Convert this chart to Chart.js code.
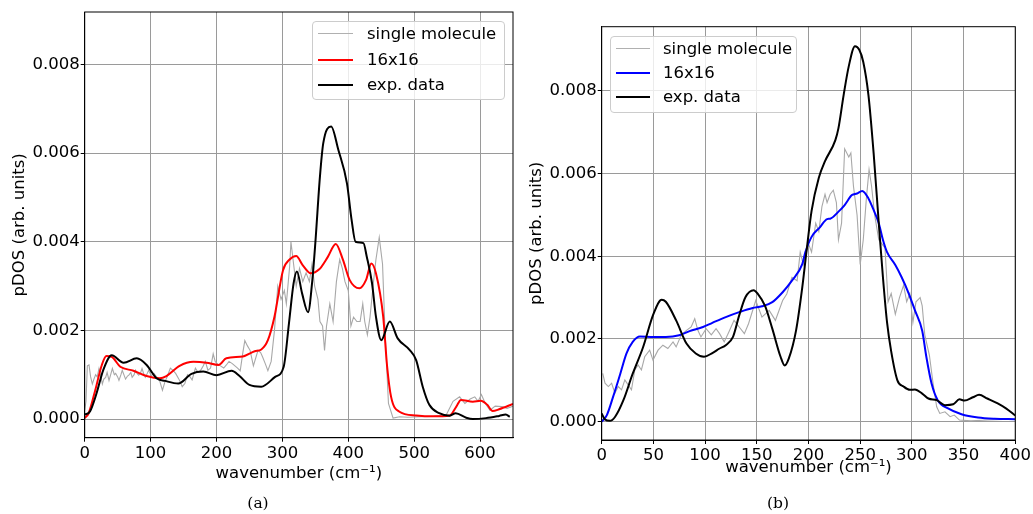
<!DOCTYPE html>
<html><head><meta charset="utf-8">
<script src="https://cdn.jsdelivr.net/npm/chart.js@4/dist/chart.umd.min.js"></script>
<style>
body{margin:0;background:#fff;width:1033px;height:514px;overflow:hidden;position:relative;font-family:"DejaVu Sans",sans-serif}
canvas{position:absolute;top:0}
.leg{position:absolute;border:1px solid #cccccc;border-radius:4px;background:rgba(255,255,255,0.8);box-sizing:border-box;z-index:2}
.ll{position:absolute;height:0;border-top-style:solid;z-index:3}
.lt{position:absolute;font-size:16.5px;line-height:20px;white-space:nowrap;color:#000;z-index:3}
.cap{position:absolute;font-family:"DejaVu Serif",serif;font-size:15.5px;line-height:20px;width:60px;text-align:center;color:#000}
</style></head>
<body>
<canvas id="ca" width="520" height="514" style="left:0px"></canvas>
<canvas id="cb" width="513" height="514" style="left:520px"></canvas>

<div class="leg" style="left:312px;top:21px;width:193px;height:79px"></div>
<div class="ll" style="left:318px;top:33px;width:35px;border-top-width:1.5px;border-color:#b0b0b0"></div>
<div class="ll" style="left:318px;top:58.7px;width:35px;border-top-width:2px;border-color:#ff0000"></div>
<div class="ll" style="left:318px;top:84px;width:35px;border-top-width:2px;border-color:#000"></div>
<div class="lt" style="left:367px;top:23.7px">single molecule</div>
<div class="lt" style="left:367px;top:49.7px">16x16</div>
<div class="lt" style="left:367px;top:75px">exp. data</div>

<div class="leg" style="left:610px;top:36px;width:187px;height:77px"></div>
<div class="ll" style="left:616px;top:48.3px;width:34px;border-top-width:1.5px;border-color:#b0b0b0"></div>
<div class="ll" style="left:616px;top:71.5px;width:34px;border-top-width:2px;border-color:#0000ff"></div>
<div class="ll" style="left:616px;top:95.5px;width:34px;border-top-width:2px;border-color:#000"></div>
<div class="lt" style="left:663px;top:39px">single molecule</div>
<div class="lt" style="left:663px;top:62.5px">16x16</div>
<div class="lt" style="left:663px;top:86.5px">exp. data</div>

<div class="cap" style="left:228px;top:493px">(a)</div>
<div class="cap" style="left:748px;top:493px">(b)</div>

<script>
// ---------- panel (a) ----------
const aXTicks = [0,100,200,300,400,500,600];
const aYTicks = [0,0.002,0.004,0.006,0.008];
const aSingleX = [0,2,4,6.5,9,11.6,14,16.6,19,21.7,
 24,26.8,29,31.8,34,36.9,39,42,45,47,
 50,52,55,57,60,62,65,67,70,72,
 75,77,80,82,85,87,90,92,95,97,
 101,105,109,113,118,122,125,130,134,138,
 143,148,152,156,160,163,168,172,176,180,
 183,187,191,195,198,201,206,211,215,219,
 224,228,232,236,240,243,247,251,256,260,
 263,267,270,274,278,283,288,293,298,303,
 306,311,313,317,321,326,331,336,341,345,
 349,354,357,361,364,367,372,377,382,387,
 391,395,400,404,408,413,418,422,425,429,
 433,438,442,447,452,456,461,468,478,490,
 510,530,549,559,569,577,585,592,597,602,
 608,615,623,633,641,650];
const aSingleY = [0.0002,0.0004,0.0012,0.00122,0.00095,0.00079,0.0009,0.001,0.00095,0.00114,
 0.001,0.00079,0.0009,0.00094,0.00105,0.00087,0.00098,0.00114,0.001,0.00103,
 0.00095,0.00087,0.001,0.0011,0.00098,0.0009,0.00097,0.00099,0.00105,0.00094,
 0.001,0.0011,0.00102,0.00099,0.00105,0.00114,0.001,0.00094,0.00103,0.0011,
 0.00098,0.00103,0.00095,0.0009,0.00065,0.00085,0.00095,0.00115,0.0011,0.00103,
 0.0009,0.00073,0.0008,0.001,0.00095,0.00088,0.00115,0.00105,0.0011,0.0012,
 0.0013,0.0011,0.00115,0.00147,0.0013,0.00125,0.0012,0.00115,0.00122,0.0013,
 0.00125,0.0012,0.00115,0.00109,0.0015,0.00177,0.00165,0.00155,0.0012,0.0014,
 0.00155,0.0015,0.0014,0.00125,0.00109,0.0013,0.002,0.003,0.0027,0.0029,
 0.0026,0.00344,0.004,0.0035,0.003,0.0034,0.0031,0.0033,0.0031,0.0035,
 0.003,0.0027,0.0022,0.0021,0.00155,0.0021,0.0026,0.0022,0.0031,0.0036,
 0.0034,0.0031,0.0029,0.0021,0.0023,0.0022,0.0022,0.0026,0.0022,0.0019,
 0.0023,0.00306,0.0036,0.0041,0.0035,0.0019,0.00035,0.00002,0.00005,0.00004,
 0.00005,0.00006,0.0001,0.0004,0.0005,0.00035,0.00045,0.0005,0.0004,0.00055,
 0.00035,0.0002,0.00029,0.00028,0.00024,0.00029];
const aLatticeX = [0,6,16,26,33,41,54,74,94,114,
 124,144,165,185,203,215,240,258,268,278,
 288,301,311,321,331,343,356,369,381,392,
 402,417,427,435,442,453,459,465,477,503,
 528,554,564,571,589,601,611,619,629,650];
const aLatticeY = [0.00002,0.00013,0.00065,0.00122,0.00142,0.0014,0.00118,0.00109,0.00097,0.00092,
 0.00097,0.0012,0.00129,0.00127,0.00122,0.00137,0.00141,0.00153,0.00157,0.00178,
 0.00231,0.00336,0.0036,0.00368,0.00347,0.00329,0.00338,0.00366,0.00395,0.00359,
 0.00314,0.00295,0.00314,0.00351,0.00329,0.00231,0.00118,0.0005,0.00017,0.00008,
 0.00006,0.00008,0.00028,0.00043,0.00039,0.00041,0.00032,0.00018,0.00022,0.00034];
const aExpX = [0,8,18,28,41,59,79,94,109,122,
 142,162,180,200,223,235,250,268,289,302,
 310,317,322,330,339,345,350,357,362,374,
 385,398,405,411,423,428,436,442,450,463,
 475,493,503,513,523,538,554,563,579,589,
 609,629,639,645];
const aExpY = [0.0001,0.00017,0.00058,0.0011,0.00144,0.00127,0.00137,0.00122,0.00092,0.00086,
 0.0008,0.00102,0.00107,0.00099,0.00109,0.00097,0.00077,0.00073,0.00095,0.00118,
 0.00216,0.00306,0.00333,0.00283,0.00241,0.00306,0.00397,0.00547,0.00622,0.0066,
 0.00607,0.00532,0.0045,0.004,0.00397,0.00367,0.00307,0.00231,0.00178,0.0022,
 0.00182,0.00156,0.00133,0.00073,0.00032,0.00013,0.000075,0.00013,0.00003,0.0,
 0.00002,0.00007,0.0001,0.00005];

// ---------- panel (b) ----------
const bXTicks = [0,50,100,150,200,250,300,350,400];
const bYTicks = [0,0.002,0.004,0.006,0.008];
const bSingleX = [1,3.2,6.4,9.6,12.8,16,19.2,22.4,25.6,28.8,
 32,35.2,38.4,41.6,46.4,49.6,54.5,59.2,64,69,
 72,77,82,86.5,90,93,96,101,106,110.6,
 114,118.5,123,128,133,138,142,149,155,162,
 168,175,179,184,189,192,195,200,203,207,
 210,213,216,218,221,224,227,229,232,235,
 239,241,243.5,247,250,253,256,258.6,261,264,
 268,271,274,277,280,284,288,292,295,298,
 301,304,308,310,312.5,317,320.5,324,327,332,
 337,341,346,357,373,396];
const bSingleY = [0.00117,0.00093,0.00085,0.00093,0.00069,0.00085,0.00077,0.00101,0.00089,0.00077,
 0.00125,0.00137,0.00125,0.00157,0.00173,0.00149,0.00173,0.00185,0.00177,0.00193,
 0.00181,0.0021,0.00221,0.00229,0.00249,0.00221,0.00205,0.00225,0.0021,0.00225,
 0.00213,0.00193,0.00217,0.00245,0.00229,0.00213,0.00237,0.00293,0.00253,0.00269,
 0.00245,0.00293,0.00309,0.00349,0.00341,0.0041,0.0038,0.0043,0.0041,0.0048,
 0.0046,0.0052,0.0055,0.0053,0.0055,0.0056,0.0053,0.0044,0.0048,0.0066,
 0.0064,0.0065,0.0057,0.005,0.0038,0.0044,0.0054,0.0061,0.0057,0.005,
 0.0044,0.0043,0.0042,0.0029,0.0031,0.0026,0.003,0.0033,0.0029,0.0031,
 0.0024,0.0029,0.003,0.0028,0.0021,0.0016,0.00093,0.00036,0.0002,0.00024,
 0.00012,0.00016,0.00004,0.00002,0.00004,0.00006];
const bLatticeX = [0,5,11,18,24,30,37,50,62,75,
 85,98,107,120,133,146,155,165,175,184,
 194,197,203,211,218,221,229,235,242,247,
 252,258,263,268,272,276,284,290,297,303,
 310,314,319,325,335,348,364,380,400];
const bLatticeY = [0,0.00016,0.0006,0.00116,0.00165,0.00193,0.00206,0.00205,0.00205,0.00209,
 0.00219,0.00229,0.00239,0.00253,0.00265,0.00275,0.00279,0.00289,0.00313,0.00341,
 0.00381,0.0041,0.00447,0.0047,0.0049,0.00491,0.00508,0.00524,0.00548,0.00552,
 0.00558,0.0054,0.00512,0.0048,0.0044,0.0041,0.00379,0.0035,0.0031,0.00269,
 0.0022,0.00157,0.00093,0.00052,0.00032,0.00018,0.0001,0.00007,0.00006];
const bExpX = [0,3,8,13,21,30,40,50,58,62,
 72,82,91,99,107,114,120,127,133,139,
 147,151,158,165,173,177,181,188,194,198,
 203,210,216,226,229,234,239,245,249,253,
 258,263,268,272,276,280,286,292,298,303,
 310,316,324,332,340,346,351,359,365,373,
 383,391,400];
const bExpY = [0.0002,0.00006,0.00002,0.00012,0.00052,0.00116,0.0018,0.0026,0.00295,0.0029,
 0.00245,0.00189,0.00165,0.00157,0.00166,0.00177,0.00185,0.00205,0.00257,0.00301,
 0.00318,0.00309,0.0028,0.00225,0.00157,0.00136,0.00153,0.00221,0.00325,0.0041,
 0.0051,0.0059,0.0063,0.00681,0.0071,0.0079,0.0086,0.00908,0.009,0.0087,
 0.0079,0.0065,0.0048,0.0035,0.0024,0.0017,0.001,0.00085,0.00077,0.00078,
 0.00068,0.00056,0.00052,0.0004,0.00042,0.00054,0.00051,0.00059,0.00065,0.00056,
 0.00044,0.00032,0.00015];

const pts = (xs, ys) => xs.map((x, i) => ({x: x, y: ys[i]}));
const FONT = {family: '"DejaVu Sans"', size: 16.5};

const framePlugin = {
  id: 'frame',
  afterDraw(chart) {
    const {ctx, chartArea: a} = chart;
    ctx.save();
    ctx.strokeStyle = '#000';
    ctx.lineWidth = 1;
    ctx.strokeRect(a.left, a.top, a.right - a.left, a.bottom - a.top);
    ctx.restore();
  }
};

function makeChart(id, cfg) {
  const ds = [
    {label: 'single molecule', data: pts(cfg.sx, cfg.sy), borderColor: '#a8a8a8', borderWidth: 1.1, pointRadius: 0, tension: 0, order: 3},
    {label: '16x16', data: pts(cfg.lx, cfg.ly), borderColor: cfg.color, borderWidth: 2, pointRadius: 0, cubicInterpolationMode: 'monotone', order: 2},
    {label: 'exp. data', data: pts(cfg.ex, cfg.ey), borderColor: '#000000', borderWidth: 2, pointRadius: 0, cubicInterpolationMode: 'monotone', order: 1}
  ];
  return new Chart(document.getElementById(id), {
    type: 'line',
    data: {datasets: ds},
    options: {
      responsive: false,
      animation: false,
      events: [],
      layout: {padding: cfg.pad},
      plugins: {legend: {display: false}, tooltip: {enabled: false}},
      scales: {
        x: {
          type: 'linear', min: cfg.xmin, max: cfg.xmax,
          afterBuildTicks: s => { s.ticks = cfg.xt.map(v => ({value: v})); },
          afterFit: s => { s.height = cfg.xh; },
          grid: {color: '#9a9a9a', lineWidth: 1, tickColor: '#000', tickLength: 4, drawTicks: true},
          border: {display: true, color: '#000'},
          ticks: {font: FONT, color: '#000', padding: 2, maxRotation: 0, autoSkip: false, callback: v => String(v)},
          title: {display: true, text: 'wavenumber (cm⁻¹)', font: FONT, color: '#000', padding: {top: 0, bottom: cfg.xtp}}
        },
        y: {
          type: 'linear', min: cfg.ymin, max: cfg.ymax,
          afterBuildTicks: s => { s.ticks = cfg.yt.map(v => ({value: v})); },
          afterFit: s => { s.width = cfg.yw; },
          grid: {color: '#9a9a9a', lineWidth: 1, tickColor: '#000', tickLength: 4, drawTicks: true},
          border: {display: true, color: '#000'},
          ticks: {font: FONT, color: '#000', padding: 1, autoSkip: false, callback: v => v.toFixed(3)},
          title: {display: true, text: 'pDOS (arb. units)', font: FONT, color: '#000', padding: {top: cfg.ytp, bottom: 0}}
        }
      }
    },
    plugins: [framePlugin]
  });
}

makeChart('ca', {
  sx: aSingleX, sy: aSingleY, lx: aLatticeX, ly: aLatticeY, ex: aExpX, ey: aExpY,
  color: '#ff0000', xt: aXTicks, yt: aYTicks,
  xmin: 0, xmax: 650, ymin: -0.000422, ymax: 0.009187,
  pad: {left: 0, top: 12, right: 7, bottom: 0}, xh: 76.3, yw: 84.7, xtp: 30, ytp: 10
});
makeChart('cb', {
  sx: bSingleX, sy: bSingleY, lx: bLatticeX, ly: bLatticeY, ex: bExpX, ey: bExpY,
  color: '#0000ff', xt: bXTicks, yt: bYTicks,
  xmin: 0, xmax: 400, ymin: -0.000443, ymax: 0.009553,
  pad: {left: 0, top: 26.7, right: 15.3, bottom: 0}, xh: 74, yw: 81.7, xtp: 36, ytp: 7
});
</script>
</body></html>
